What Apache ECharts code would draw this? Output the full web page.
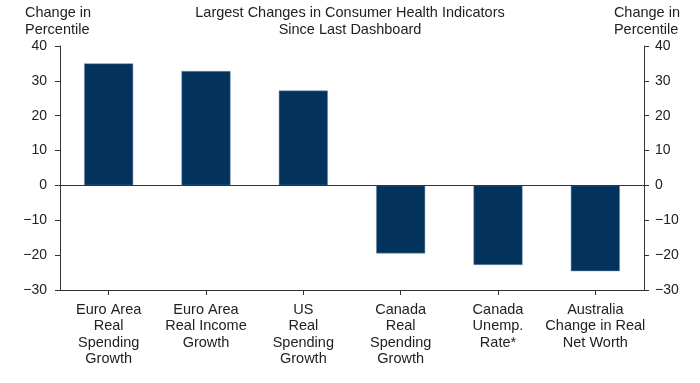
<!DOCTYPE html>
<html><head><meta charset="utf-8">
<script src="https://cdn.jsdelivr.net/npm/echarts@6/dist/echarts.min.js"></script>
<style>html,body{margin:0;padding:0;background:#fff}#c{width:700px;height:383px}</style>
</head><body><div id="c"></div>
<script>
const categories = ["Euro Area\nReal\nSpending\nGrowth", "Euro Area\nReal Income\nGrowth", "US\nReal\nSpending\nGrowth", "Canada\nReal\nSpending\nGrowth", "Canada\nUnemp.\nRate*", "Australia\nChange in Real\nNet Worth"];
const values = [35, 32.8, 27.2, -19.5, -22.8, -24.6];
const yMin = -30, yMax = 40, yStep = 10;
const titleText = "Largest Changes in Consumer Health Indicators\nSince Last Dashboard";
const axisTitle = "Change in\nPercentile";

const font = "Liberation Sans, Arial, sans-serif";
const txt = '#222';
const chart = echarts.init(document.getElementById('c'), null, {renderer: 'canvas'});
const yAx = (pos) => ({
  type: 'value', position: pos, min: yMin, max: yMax, interval: yStep,
  axisLine: {show: true, lineStyle: {color: '#333', width: 1}},
  axisTick: {show: true, inside: false, length: 5, lineStyle: {color: '#333'}},
  splitLine: {show: false},
  axisLabel: {color: txt, fontFamily: font, fontSize: 14, margin: pos === 'left' ? 13 : 11,
    formatter: v => v < 0 ? '\u2212' + Math.abs(v) : String(v)}
});
const tStyle = {fontFamily: font, fontSize: 14.5, fontWeight: 'normal', color: txt, lineHeight: 16.5};
chart.setOption({
  animation: false,
  title: [
    {text: titleText, left: 'center', top: 5, padding: 0, textStyle: tStyle},
    {text: axisTitle, left: 25, top: 5, padding: 0, textStyle: tStyle},
    {text: axisTitle, right: 20, top: 5, padding: 0, textStyle: Object.assign({align: 'right'}, tStyle)}
  ],
  grid: {left: 60, right: 56, top: 46, bottom: 93, containLabel: false},
  xAxis: {
    type: 'category', data: categories, position: 'bottom',
    axisLine: {show: true, onZero: false, lineStyle: {color: '#333'}},
    axisTick: {show: true, alignWithLabel: true, length: 5, lineStyle: {color: '#333'}},
    axisLabel: {color: txt, fontFamily: font, fontSize: 14.5, lineHeight: 16.5, margin: 11.5, interval: 0}
  },
  yAxis: [yAx('left'), yAx('right')],
  series: [{
    type: 'bar', data: values, barWidth: 49, yAxisIndex: 0,
    itemStyle: {color: '#03335c', borderColor: '#6f8fae', borderWidth: 0.5},
    markLine: {symbol: 'none', silent: true, label: {show: false},
      lineStyle: {color: '#333', width: 1, type: 'solid'}, data: [{yAxis: 0}]}
  }]
});
</script></body></html>
